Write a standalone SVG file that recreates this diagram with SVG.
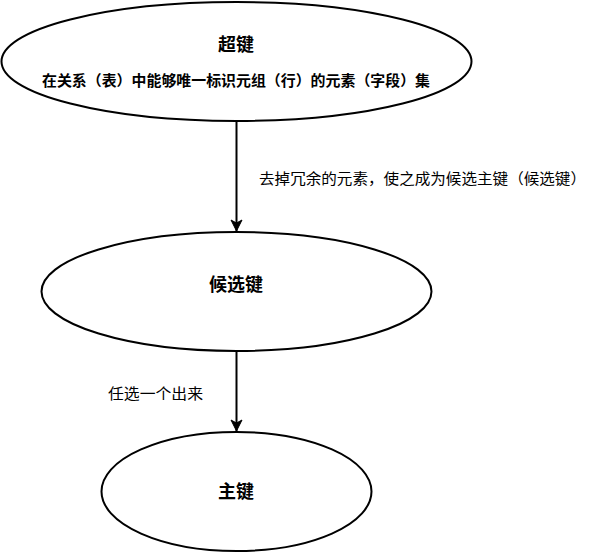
<svg xmlns="http://www.w3.org/2000/svg" width="602" height="552" viewBox="0 0 602 552">
<style>
.node{fill:#fff;stroke:#000;stroke-width:2}
.t{font-family:"Liberation Sans","Noto Sans CJK SC",sans-serif;fill:#000;text-anchor:middle;dominant-baseline:central}
.b{font-weight:bold}
.edge{fill:none;stroke:#000;stroke-width:2}
.lbl{font-family:"Liberation Sans","Noto Sans CJK SC",sans-serif;fill:#000;font-size:15px;dominant-baseline:central}
</style>
<defs>
<marker id="arr" markerUnits="userSpaceOnUse" markerWidth="14" markerHeight="14" viewBox="-12 -7 14 14" refX="0" refY="0" orient="auto">
<path d="M0,0 L-11,-5.5 L-8,0 L-11,5.5 Z" fill="#000" stroke="#000" stroke-width="1"/>
</marker>
</defs>
<g id="connectors">
<line class="edge" x1="236.5" y1="121" x2="236.5" y2="231" marker-end="url(#arr)"/>
<line class="edge" x1="236.5" y1="351" x2="236.5" y2="431" marker-end="url(#arr)"/>
<text class="lbl" x="259" y="178" textLength="327" lengthAdjust="spacingAndGlyphs">去掉冗余的元素，使之成为候选主键（候选键）</text>
<text class="lbl" x="108" y="393" textLength="95" lengthAdjust="spacingAndGlyphs">任选一个出来</text>
</g>
<g id="superkey">
<ellipse class="node" cx="236.5" cy="61.5" rx="235" ry="59.5"/>
<text class="t b" x="236" y="45" font-size="18">超键</text>
<text class="t b" x="236" y="80.5" font-size="14.5" textLength="388" lengthAdjust="spacingAndGlyphs">在关系（表）中能够唯一标识元组（行）的元素（字段）集</text>
</g>
<g id="candidatekey">
<ellipse class="node" cx="236.5" cy="291.5" rx="195" ry="59.5"/>
<text class="t b" x="236" y="285" font-size="18">候选键</text>
</g>
<g id="primarykey">
<ellipse class="node" cx="236.5" cy="491.5" rx="135" ry="59.5"/>
<text class="t b" x="236" y="491.5" font-size="18">主键</text>
</g>
</svg>
